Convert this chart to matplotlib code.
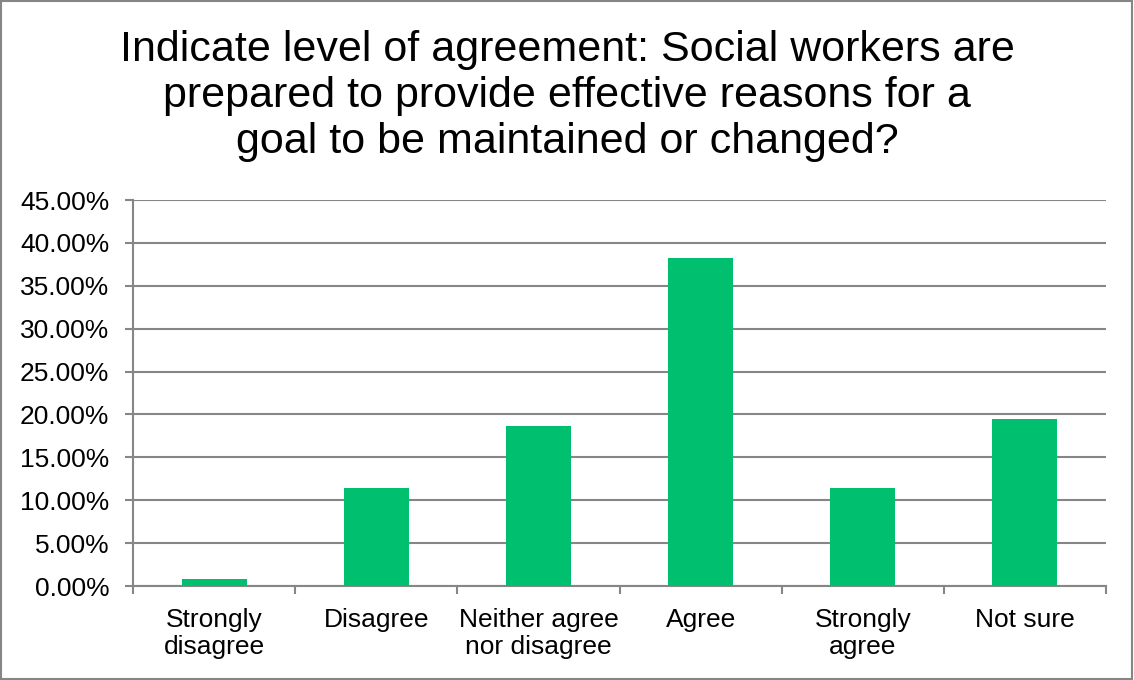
import matplotlib.pyplot as plt
from matplotlib.patches import Rectangle
from matplotlib.ticker import FuncFormatter, MultipleLocator

plt.rcParams['font.family'] = ['Liberation Sans', 'DejaVu Sans']

# survey responses (share of respondents, %)
categories = ['Strongly\ndisagree', 'Disagree', 'Neither agree\nnor disagree',
              'Agree', 'Strongly\nagree', 'Not sure']
shares = [0.81, 11.38, 18.70, 38.21, 11.38, 19.51]

title = ('Indicate level of agreement: Social workers are\n'
         'prepared to provide effective reasons for a\n'
         'goal to be maintained or changed?')

bar_color = '#00BF6F'
grid_color = '#868686'

fig = plt.figure(figsize=(11.34, 6.8), dpi=100)
ax = fig.add_axes([133 / 1134, 1 - 586 / 680, (1106 - 133) / 1134, (586 - 200) / 680])

x = range(len(categories))
ax.bar(x, shares, width=0.4, color=bar_color, zorder=3)

ax.set_xlim(-0.5, len(categories) - 0.5)
ax.set_ylim(0, 45)
ax.yaxis.set_major_locator(MultipleLocator(5))
ax.yaxis.set_major_formatter(FuncFormatter(lambda v, _: f'{v:.2f}%'))
ax.grid(axis='y', color=grid_color, linewidth=1.5, zorder=0)

# category labels centred, tick marks on category boundaries
ax.set_xticks(list(x))
ax.set_xticklabels(categories, fontsize=19, linespacing=1.15)
ax.set_xticks([i - 0.5 for i in range(len(categories) + 1)], minor=True)
ax.tick_params(axis='x', which='major', length=0, pad=16)
ax.tick_params(axis='x', which='minor', length=6, width=1.5, color=grid_color)
ax.tick_params(axis='y', length=6, width=1.5, color=grid_color, labelsize=19, pad=11)

for side in ['top', 'right']:
    ax.spines[side].set_visible(False)
for side in ['left', 'bottom']:
    ax.spines[side].set_color(grid_color)
    ax.spines[side].set_linewidth(1.5)

fig.text(0.5, 1 - 96 / 680, title, ha='center', va='center',
         fontsize=31, linespacing=1.2)

# outer chart border
fig.patches.append(Rectangle((0.001, 0.001), 0.997, 0.997, transform=fig.transFigure,
                             fill=False, edgecolor=grid_color, linewidth=1.5))

fig.savefig('out.png', dpi=100)
